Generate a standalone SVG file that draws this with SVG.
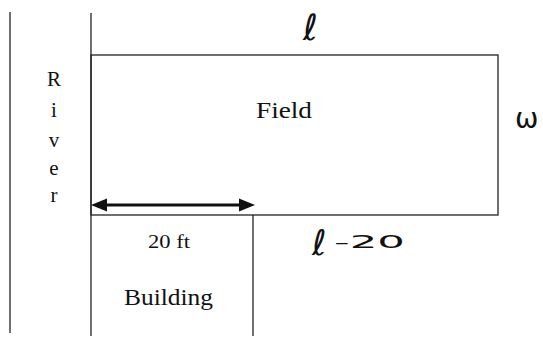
<svg xmlns="http://www.w3.org/2000/svg" width="543" height="340" viewBox="0 0 543 340">
<style>
.ln{stroke:#222;stroke-width:1.3;fill:none}
.pr{font-family:"Liberation Serif","Times New Roman",serif;fill:#111}
.hw{font-family:"DejaVu Sans",sans-serif;fill:#111}
</style>
<rect width="543" height="340" fill="#fff"/>
<g id="river">
<line class="ln" x1="10" y1="12" x2="10" y2="333"/>
<text class="pr" font-size="21" text-anchor="middle" x="54" y="86">R</text>
<text class="pr" font-size="21" text-anchor="middle" x="54" y="117">i</text>
<text class="pr" font-size="21" text-anchor="middle" x="54" y="147">v</text>
<text class="pr" font-size="21" text-anchor="middle" x="54" y="175">e</text>
<text class="pr" font-size="21" text-anchor="middle" x="54" y="202">r</text>
</g>
<g id="field">
<line class="ln" x1="91" y1="13" x2="91" y2="336"/>
<rect class="ln" x="91" y="55" width="407" height="160"/>
<text class="pr" font-size="24" x="256" y="118" textLength="56" lengthAdjust="spacingAndGlyphs">Field</text>
<text class="hw" font-size="36" x="303" y="40">ℓ</text>
<text class="hw" font-size="28" x="515" y="128">ω</text>
<text class="hw" x="312" y="255"><tspan font-size="35">ℓ</tspan><tspan font-size="18" x="334" y="248" textLength="71" lengthAdjust="spacingAndGlyphs">-20</tspan></text>
</g>
<g id="building">
<line class="ln" x1="253" y1="215" x2="253" y2="336"/>
<text class="pr" font-size="19" x="148" y="248" textLength="42" lengthAdjust="spacingAndGlyphs">20 ft</text>
<text class="pr" font-size="23" x="124" y="305" textLength="89" lengthAdjust="spacingAndGlyphs">Building</text>
</g>
<g id="connectors">
<line x1="100" y1="205" x2="246" y2="205" stroke="#111" stroke-width="3"/>
<polygon points="91,205 107,198.5 107,211.5" fill="#111"/>
<polygon points="255,205 239,198.5 239,211.5" fill="#111"/>
</g>
</svg>
